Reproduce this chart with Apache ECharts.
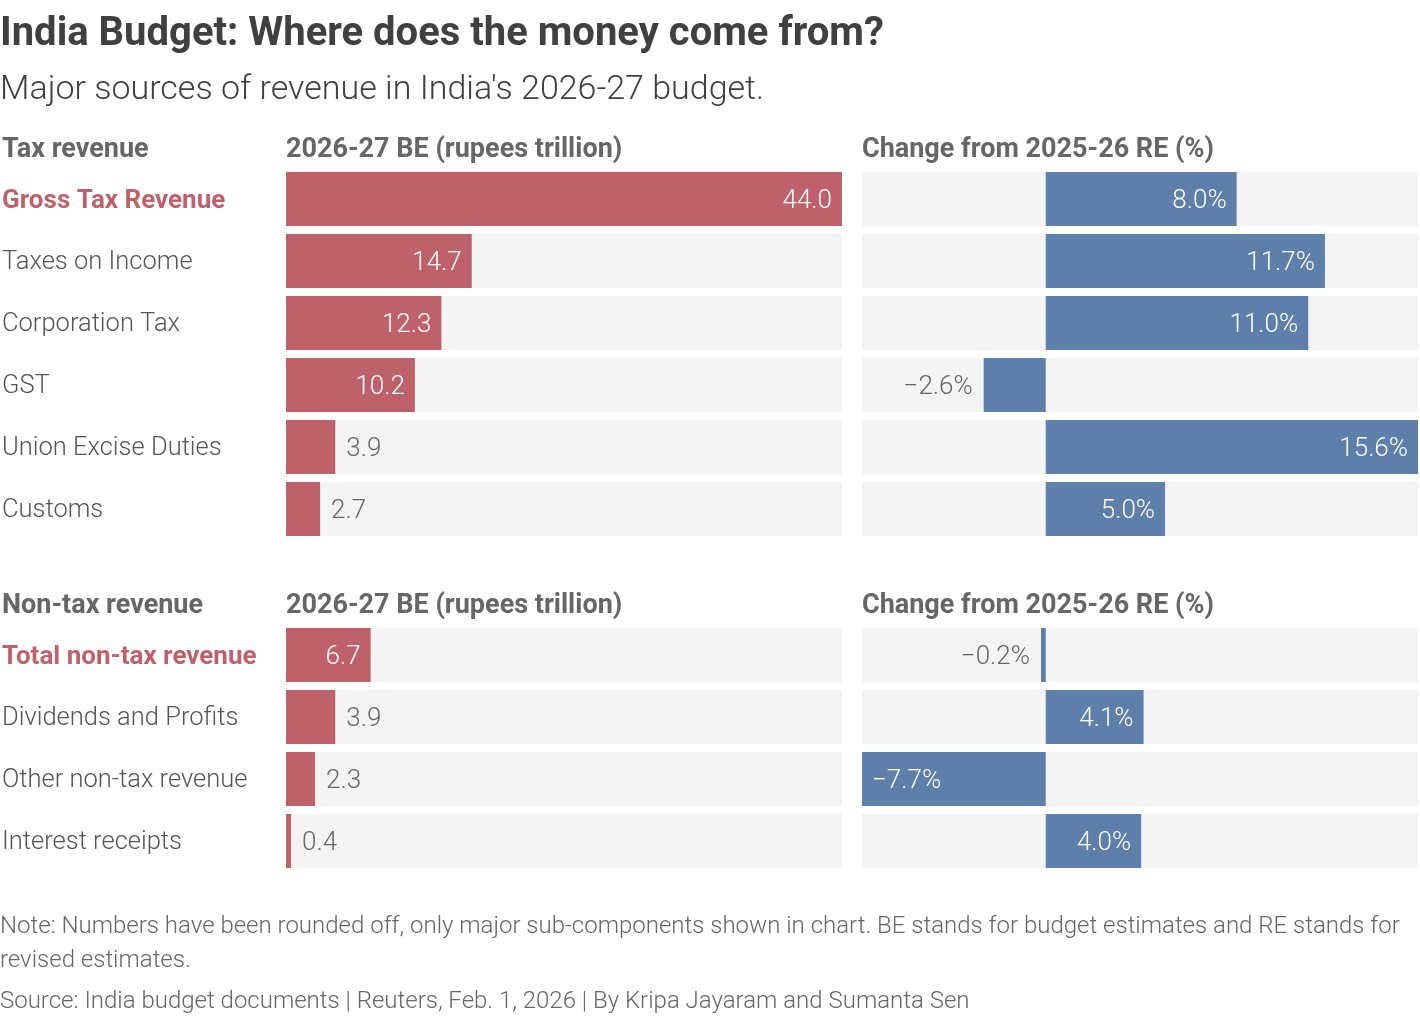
<!DOCTYPE html>
<html><head><meta charset="utf-8">
<script src="https://cdn.jsdelivr.net/npm/echarts@6/dist/echarts.min.js"></script>
<style>html,body{margin:0;padding:0;background:#fff}#c{width:1420px;height:1016px}</style>
</head><body><div id="c"></div>
<script>
const taxCategories = ['Gross Tax Revenue','Taxes on Income','Corporation Tax','GST','Union Excise Duties','Customs'];
const taxBE = [44.0, 14.7, 12.3, 10.2, 3.9, 2.7];
const taxChange = [8.0, 11.7, 11.0, -2.6, 15.6, 5.0];
const nonTaxCategories = ['Total non-tax revenue','Dividends and Profits','Other non-tax revenue','Interest receipts'];
const nonTaxBE = [6.7, 3.9, 2.3, 0.4];
const nonTaxChange = [-0.2, 4.1, -7.7, 4.0];

const FONT = 'Roboto';
const RED = '#bf616a', BLUE = '#5d7fa9', BG = '#f4f4f4';
const chart = echarts.init(document.getElementById('c'));

function fmtNum(v){ return (v<0?'\u2212':'') + Math.abs(v).toFixed(1); }

function beData(vals){
  return vals.map(v => {
    const inside = v > 5;
    return {value: v, label: {show:true, position: inside?'insideRight':'right', distance: inside?10:11,
      color: inside?'#fff':'#666', fontFamily: FONT, fontWeight: 300, fontSize: 26, offset:[0,2],
      formatter: p => fmtNum(p.value)}};
  });
}
function chData(vals){
  return vals.map(v => {
    const inside = Math.abs(v) >= 4;
    let pos;
    if (v >= 0) pos = inside ? 'insideRight' : 'right';
    else pos = inside ? 'insideLeft' : 'left';
    return {value: v, label: {show:true, position: pos, distance: inside?10:11,
      color: inside?'#fff':'#666', fontFamily: FONT, fontWeight: 300, fontSize: 26, offset:[0,2],
      formatter: p => fmtNum(p.value) + '%'}};
  });
}

const gbase = {containLabel:false, outerBoundsMode:'none'};
const grids = [
  Object.assign({left:286, width:556, top:168, height:372}, gbase),
  Object.assign({left:862, width:556, top:168, height:372}, gbase),
  Object.assign({left:286, width:556, top:624, height:248}, gbase),
  Object.assign({left:862, width:556, top:624, height:248}, gbase)
];

function yAx(gi, cats, showLabels){
  return {type:'category', gridIndex:gi, data:cats, inverse:true,
    axisLine:{show:false}, axisTick:{show:false}, splitLine:{show:false},
    axisLabel:{show:showLabels, align:'left', margin:284,
      formatter:(v,i)=> i===0 ? '{h|'+v+'}' : '{n|'+v+'}',
      rich:{h:{color:RED, fontWeight:'bold', fontSize:26, fontFamily:FONT, padding:[4,0,0,0]},
            n:{color:'#555', fontWeight:300, fontSize:25.5, fontFamily:FONT, padding:[4,0,0,0]}}}};
}
function xAx(gi, min, max){
  return {type:'value', gridIndex:gi, min:min, max:max, show:false};
}
function barS(gi, data, color){
  return {type:'bar', xAxisIndex:gi, yAxisIndex:gi, data:data, barWidth:54,
    itemStyle:{color:color}, showBackground:true, backgroundStyle:{color:BG},
    animation:false};
}

const hdr = (x,y,t) => ({type:'text', left:x, top:y, style:{text:t, fill:'#666', font:'bold 27px '+FONT}});

chart.setOption({
  animation:false,
  grid: grids,
  xAxis: [xAx(0,0,44), xAx(1,-7.7,15.6), xAx(2,0,44), xAx(3,-7.7,15.6)],
  yAxis: [yAx(0,taxCategories,true), yAx(1,taxCategories,false), yAx(2,nonTaxCategories,true), yAx(3,nonTaxCategories,false)],
  series: [barS(0,beData(taxBE),RED), barS(1,chData(taxChange),BLUE), barS(2,beData(nonTaxBE),RED), barS(3,chData(nonTaxChange),BLUE)],
  graphic: [
    {type:'text', left:0, top:15, style:{text:'India Budget: Where does the money come from?', fill:'#404040', font:'bold 40px '+FONT}},
    {type:'text', left:0, top:73, style:{text:"Major sources of revenue in India's 2026-27 budget.", fill:'#404040', font:'300 34px '+FONT}},
    hdr(2,137,'Tax revenue'), hdr(286,137,'2026-27 BE (rupees trillion)'), hdr(862,137,'Change from 2025-26 RE (%)'),
    hdr(2,593,'Non-tax revenue'), hdr(286,593,'2026-27 BE (rupees trillion)'), hdr(862,593,'Change from 2025-26 RE (%)'),
    {type:'text', left:0, top:910, style:{text:'Note: Numbers have been rounded off, only major sub-components shown in chart. BE stands for budget estimates and RE stands for\nrevised estimates.', fill:'#666', font:'300 24px '+FONT, lineHeight:34}},
    {type:'text', left:0, top:990, style:{text:'Source: India budget documents | Reuters, Feb. 1, 2026 | By Kripa Jayaram and Sumanta Sen', fill:'#666', font:'300 24px '+FONT}}
  ]
});
</script></body></html>
